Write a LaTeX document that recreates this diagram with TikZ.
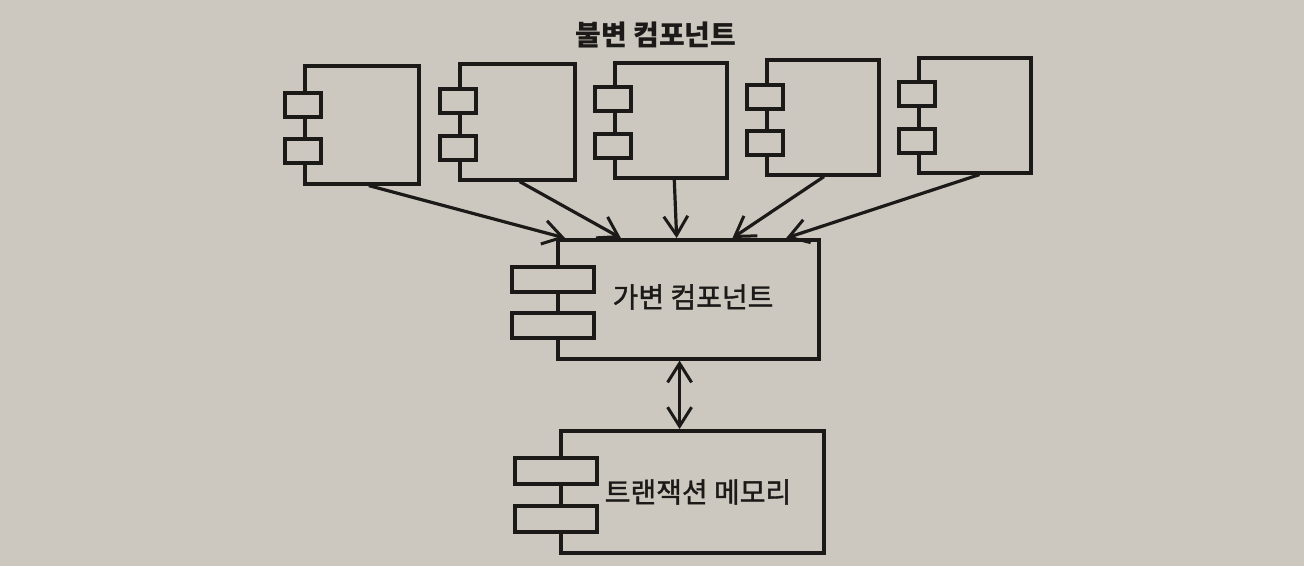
\documentclass[tikz,border=0pt]{standalone}
\usepackage{fontspec}
\newfontfamily\kr{Noto Sans CJK KR}
\newfontfamily\krm{Noto Sans CJK KR}[FakeBold=1.4]
\usetikzlibrary{arrows.meta,calc}
\definecolor{paper}{RGB}{204,200,192}
\definecolor{ink}{RGB}{28,26,24}
\tikzset{
  body/.style={draw=ink,line width=3.6pt,rectangle,inner sep=0pt,anchor=north west},
  port/.style={draw=ink,line width=3.6pt,fill=paper,rectangle,inner sep=0pt,anchor=north west},
  barb/.tip={Straight Barb[length=19pt,width=24pt,line width=3pt]},
  arr/.style={draw=ink,line width=3.2pt,-barb},
  darr/.style={draw=ink,line width=3.2pt,barb-barb},
  lbl/.style={font=\krm\fontsize{28}{32}\selectfont,text=ink,inner sep=0pt}
}
\begin{document}
\begin{tikzpicture}[x=1pt,y=-1pt]
\fill[paper] (0,0) rectangle (1304,566);
\useasboundingbox (0,0) rectangle (1304,566);
% title
\node[lbl,font=\kr\bfseries\fontsize{28}{32}\selectfont] (title) at (656,35) {불변 컴포넌트};
% top components
\node[body,minimum width=114pt,minimum height=118pt] (b1) at (303,64) {};
\node[port,minimum width=36pt,minimum height=24pt] (b1p1) at (283,91) {};
\node[port,minimum width=36pt,minimum height=24pt] (b1p2) at (283,137) {};
\node[body,minimum width=115pt,minimum height=116pt] (b2) at (458,62) {};
\node[port,minimum width=36pt,minimum height=24pt] (b2p1) at (438,87) {};
\node[port,minimum width=36pt,minimum height=24pt] (b2p2) at (438,134) {};
\node[body,minimum width=112pt,minimum height=115pt] (b3) at (613,61) {};
\node[port,minimum width=36pt,minimum height=24pt] (b3p1) at (593,85) {};
\node[port,minimum width=36pt,minimum height=24pt] (b3p2) at (593,132) {};
\node[body,minimum width=112pt,minimum height=115pt] (b4) at (765,58) {};
\node[port,minimum width=36pt,minimum height=24pt] (b4p1) at (745,83) {};
\node[port,minimum width=36pt,minimum height=24pt] (b4p2) at (745,129) {};
\node[body,minimum width=112pt,minimum height=115pt] (b5) at (917,56) {};
\node[port,minimum width=36pt,minimum height=24pt] (b5p1) at (897,80) {};
\node[port,minimum width=36pt,minimum height=24pt] (b5p2) at (897,127) {};
% middle component
\node[body,minimum width=261pt,minimum height=119pt] (m) at (556,238) {};
\node[port,minimum width=82pt,minimum height=25pt] (mp1) at (510,265) {};
\node[port,minimum width=82pt,minimum height=25pt] (mp2) at (510,311) {};
\node[lbl] (mlabel) at (693,297) {가변 컴포넌트};
% bottom component
\node[body,minimum width=263pt,minimum height=122pt] (t) at (559,429) {};
\node[port,minimum width=82pt,minimum height=26pt] (tp1) at (513,456) {};
\node[port,minimum width=82pt,minimum height=26pt] (tp2) at (513,504) {};
\node[lbl] (tlabel) at (698,492) {트랜잭션 메모리};
% connectors
\draw[arr] ($(b1.south west)!0.56!(b1.south east)$) -- ($(m.north west)!0.034!(m.north east)$);
\draw[arr] ($(b2.south west)!0.52!(b2.south east)$) -- ($(m.north west)!0.245!(m.north east)$);
\draw[arr] ($(b3.south west)!0.53!(b3.south east)$) -- ($(m.north west)!0.456!(m.north east)$);
\draw[arr] ($(b4.south west)!0.51!(b4.south east)$) -- ($(m.north west)!0.667!(m.north east)$);
\draw[arr] ($(b5.south west)!0.54!(b5.south east)$) -- ($(m.north west)!0.87!(m.north east)$);
\coordinate (dtop) at ($(m.south west)!0.467!(m.south east)$);
\draw[darr] (dtop) -- (dtop |- t.north);
\end{tikzpicture}
\end{document}
